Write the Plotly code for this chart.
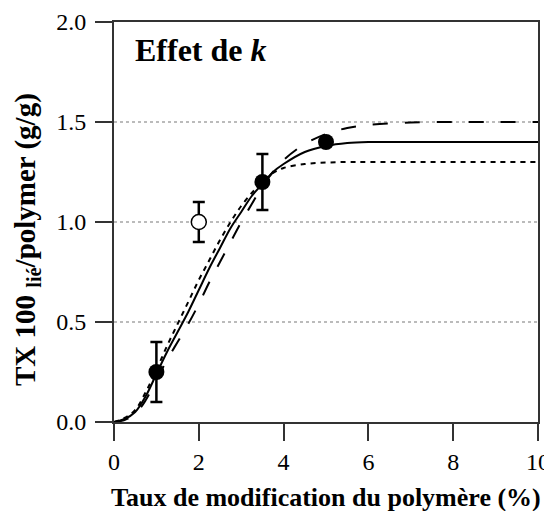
import plotly.graph_objects as go

# Curve data
curve_x = [0, 0.25, 0.5, 0.75, 1, 1.25, 1.5, 1.75, 2, 2.25, 2.5, 2.75, 3, 3.25,
           3.5, 3.75, 4, 4.5, 5, 5.5, 6, 7, 8, 9, 10]
solid_y = [0, 0.015, 0.05, 0.13, 0.24, 0.35, 0.45, 0.55, 0.66, 0.77, 0.87, 0.97,
           1.05, 1.13, 1.19, 1.25, 1.29, 1.35, 1.38, 1.395, 1.40, 1.40, 1.40, 1.40, 1.40]
short_dash_y = [0, 0.02, 0.06, 0.15, 0.26, 0.38, 0.49, 0.60, 0.71, 0.81, 0.91, 1.00,
                1.08, 1.145, 1.20, 1.245, 1.27, 1.29, 1.297, 1.30, 1.30, 1.30, 1.30, 1.30, 1.30]
long_dash_y = [0, 0.01, 0.04, 0.11, 0.21, 0.31, 0.40, 0.49, 0.59, 0.70, 0.80, 0.90,
               1.00, 1.09, 1.18, 1.25, 1.31, 1.39, 1.44, 1.47, 1.485, 1.497, 1.50, 1.50, 1.50]

# Experimental points
filled_x = [1, 3.5, 5]
filled_y = [0.25, 1.2, 1.4]
filled_err = [0.15, 0.14, 0]
open_x = [2]
open_y = [1.0]
open_err = [0.1]

x_ticks = [0, 2, 4, 6, 8, 10]
y_ticks = [0.0, 0.5, 1.0, 1.5, 2.0]

FONT = "Liberation Serif"

fig = go.Figure()
fig.add_trace(go.Scatter(x=curve_x, y=long_dash_y, mode="lines",
                         line=dict(color="black", width=2, dash="15px,17px", shape="spline"),
                         showlegend=False, hoverinfo="skip"))
fig.add_trace(go.Scatter(x=curve_x, y=short_dash_y, mode="lines",
                         line=dict(color="black", width=2, dash="5px,5px", shape="spline"),
                         showlegend=False, hoverinfo="skip"))
fig.add_trace(go.Scatter(x=curve_x, y=solid_y, mode="lines",
                         line=dict(color="black", width=2, shape="spline"),
                         showlegend=False, hoverinfo="skip"))
fig.add_trace(go.Scatter(x=filled_x, y=filled_y, mode="markers",
                         marker=dict(color="black", size=16),
                         error_y=dict(type="data", array=filled_err, color="black",
                                      thickness=2.5, width=6),
                         showlegend=False))
fig.add_trace(go.Scatter(x=open_x, y=open_y, mode="markers",
                         marker=dict(color="white", size=15, line=dict(color="black", width=1.5)),
                         error_y=dict(type="data", array=open_err, color="black",
                                      thickness=2.5, width=6),
                         showlegend=False))

# Panel label
fig.add_annotation(text="<b>Effet de <i>k</i></b>", xref="paper", yref="paper",
                   x=0.045, y=0.93, xanchor="left", yanchor="middle", showarrow=False,
                   font=dict(family=FONT, size=32, color="black"))

# Axis titles (placed as annotations for exact positioning)
fig.add_annotation(text="<b>Taux de modification du polymère (%)</b>",
                   xref="paper", yref="paper", x=(326 - 114) / 424, y=(422 - 497) / 400,
                   xanchor="center", yanchor="middle", showarrow=False,
                   font=dict(family=FONT, size=26, color="black"))
fig.add_annotation(text="<b>TX 100 <sub>lié</sub>/polymer (g/g)</b>",
                   xref="paper", yref="paper", x=(27 - 114) / 424, y=(422 - 240) / 400,
                   xanchor="center", yanchor="middle", textangle=-90, showarrow=False,
                   font=dict(family=FONT, size=29, color="black"))

# The page adds an 8px body margin, so the figure is 8px smaller on each axis
fig.update_layout(
    width=544, height=503,
    margin=dict(l=106, r=14, t=14, b=89),
    paper_bgcolor="white", plot_bgcolor="white",
    font=dict(family=FONT, size=24, color="black"),
    xaxis=dict(range=[0, 10], tickvals=x_ticks, ticktext=[str(v) for v in x_ticks],
               ticks="outside", ticklen=17, tickwidth=2, tickcolor="#333",
               showline=True, linecolor="#333", linewidth=2, mirror=True,
               showgrid=False, zeroline=False, automargin=False,
               ticklabeloverflow="allow",
               tickfont=dict(family=FONT, size=24, color="black")),
    yaxis=dict(range=[0, 2], tickvals=y_ticks, ticktext=[f"{v:.1f}" for v in y_ticks],
               ticks="outside", ticklen=17, tickwidth=2, tickcolor="#333",
               showline=True, linecolor="#333", linewidth=2, mirror=True,
               showgrid=True, gridcolor="#bbbbbb", griddash="dot", gridwidth=1.5,
               zeroline=False, automargin=False, ticklabelstandoff=4,
               ticklabeloverflow="allow",
               tickfont=dict(family=FONT, size=24, color="black")),
)

fig.write_html("out.html")
